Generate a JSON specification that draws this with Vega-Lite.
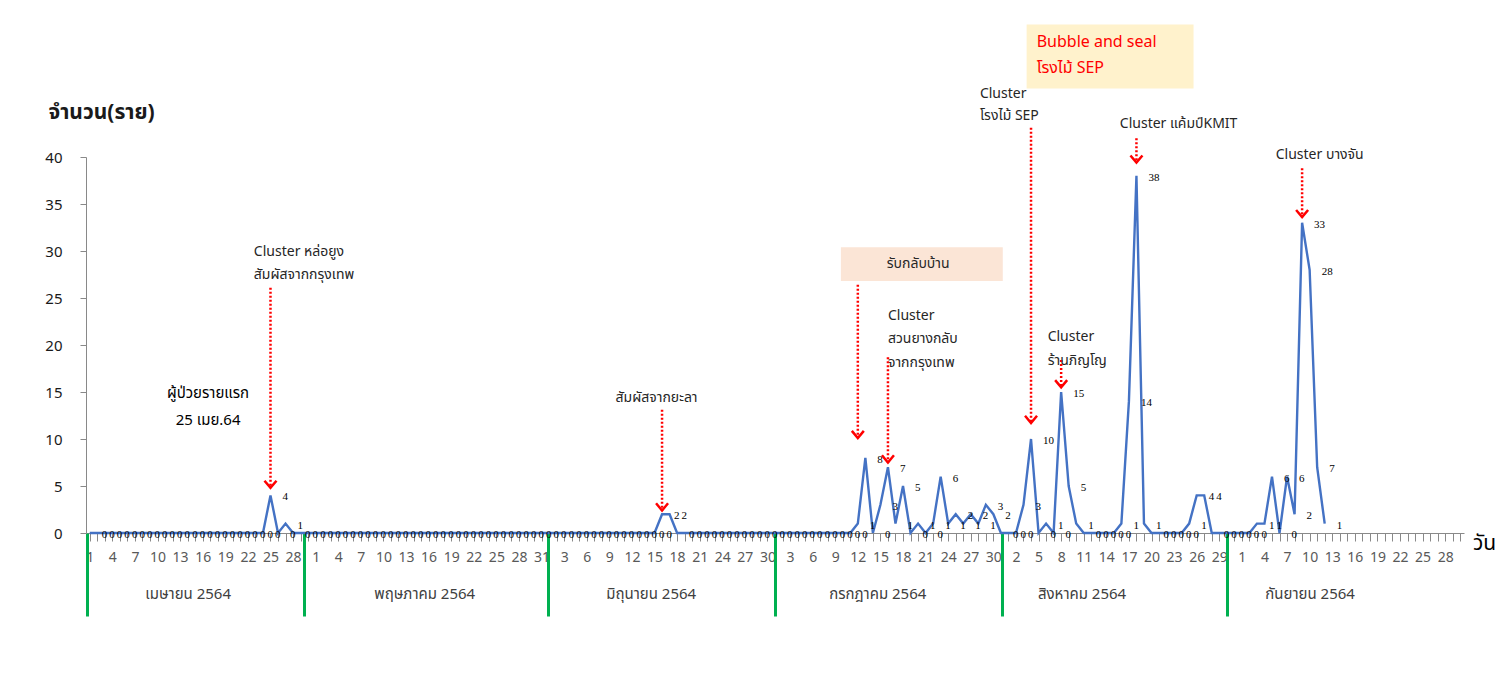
{
  "$schema": "https://vega.github.io/schema/vega-lite/v6.json",
  "width": 1378,
  "height": 376,
  "autosize": {"type": "none"},
  "padding": {"left": 86, "top": 157, "right": 47, "bottom": 144},
  "background": "white",
  "config": {"view": {"stroke": null}, "font": "Noto Sans Thai, Tahoma, Noto Sans, sans-serif"},
  "datasets": {
    "cases": [
      {"d":"2021-04-01","v":0},{"d":"2021-04-02","v":0},{"d":"2021-04-03","v":0},{"d":"2021-04-04","v":0},{"d":"2021-04-05","v":0},{"d":"2021-04-06","v":0},{"d":"2021-04-07","v":0},{"d":"2021-04-08","v":0},{"d":"2021-04-09","v":0},{"d":"2021-04-10","v":0},
      {"d":"2021-04-11","v":0},{"d":"2021-04-12","v":0},{"d":"2021-04-13","v":0},{"d":"2021-04-14","v":0},{"d":"2021-04-15","v":0},{"d":"2021-04-16","v":0},{"d":"2021-04-17","v":0},{"d":"2021-04-18","v":0},{"d":"2021-04-19","v":0},{"d":"2021-04-20","v":0},
      {"d":"2021-04-21","v":0},{"d":"2021-04-22","v":0},{"d":"2021-04-23","v":0},{"d":"2021-04-24","v":0},{"d":"2021-04-25","v":4},{"d":"2021-04-26","v":0},{"d":"2021-04-27","v":1},{"d":"2021-04-28","v":0},{"d":"2021-04-29","v":0},{"d":"2021-04-30","v":0},
      {"d":"2021-05-01","v":0},{"d":"2021-05-02","v":0},{"d":"2021-05-03","v":0},{"d":"2021-05-04","v":0},{"d":"2021-05-05","v":0},{"d":"2021-05-06","v":0},{"d":"2021-05-07","v":0},{"d":"2021-05-08","v":0},{"d":"2021-05-09","v":0},{"d":"2021-05-10","v":0},
      {"d":"2021-05-11","v":0},{"d":"2021-05-12","v":0},{"d":"2021-05-13","v":0},{"d":"2021-05-14","v":0},{"d":"2021-05-15","v":0},{"d":"2021-05-16","v":0},{"d":"2021-05-17","v":0},{"d":"2021-05-18","v":0},{"d":"2021-05-19","v":0},{"d":"2021-05-20","v":0},
      {"d":"2021-05-21","v":0},{"d":"2021-05-22","v":0},{"d":"2021-05-23","v":0},{"d":"2021-05-24","v":0},{"d":"2021-05-25","v":0},{"d":"2021-05-26","v":0},{"d":"2021-05-27","v":0},{"d":"2021-05-28","v":0},{"d":"2021-05-29","v":0},{"d":"2021-05-30","v":0},{"d":"2021-05-31","v":0},
      {"d":"2021-06-01","v":0},{"d":"2021-06-02","v":0},{"d":"2021-06-03","v":0},{"d":"2021-06-04","v":0},{"d":"2021-06-05","v":0},{"d":"2021-06-06","v":0},{"d":"2021-06-07","v":0},{"d":"2021-06-08","v":0},{"d":"2021-06-09","v":0},{"d":"2021-06-10","v":0},
      {"d":"2021-06-11","v":0},{"d":"2021-06-12","v":0},{"d":"2021-06-13","v":0},{"d":"2021-06-14","v":0},{"d":"2021-06-15","v":0},{"d":"2021-06-16","v":2},{"d":"2021-06-17","v":2},{"d":"2021-06-18","v":0},{"d":"2021-06-19","v":0},{"d":"2021-06-20","v":0},
      {"d":"2021-06-21","v":0},{"d":"2021-06-22","v":0},{"d":"2021-06-23","v":0},{"d":"2021-06-24","v":0},{"d":"2021-06-25","v":0},{"d":"2021-06-26","v":0},{"d":"2021-06-27","v":0},{"d":"2021-06-28","v":0},{"d":"2021-06-29","v":0},{"d":"2021-06-30","v":0},
      {"d":"2021-07-01","v":0},{"d":"2021-07-02","v":0},{"d":"2021-07-03","v":0},{"d":"2021-07-04","v":0},{"d":"2021-07-05","v":0},{"d":"2021-07-06","v":0},{"d":"2021-07-07","v":0},{"d":"2021-07-08","v":0},{"d":"2021-07-09","v":0},{"d":"2021-07-10","v":0},
      {"d":"2021-07-11","v":0},{"d":"2021-07-12","v":1},{"d":"2021-07-13","v":8},{"d":"2021-07-14","v":0},{"d":"2021-07-15","v":3},{"d":"2021-07-16","v":7},{"d":"2021-07-17","v":1},{"d":"2021-07-18","v":5},{"d":"2021-07-19","v":0},{"d":"2021-07-20","v":1},
      {"d":"2021-07-21","v":0},{"d":"2021-07-22","v":1},{"d":"2021-07-23","v":6},{"d":"2021-07-24","v":1},{"d":"2021-07-25","v":2},{"d":"2021-07-26","v":1},{"d":"2021-07-27","v":2},{"d":"2021-07-28","v":1},{"d":"2021-07-29","v":3},{"d":"2021-07-30","v":2},{"d":"2021-07-31","v":0},
      {"d":"2021-08-01","v":0},{"d":"2021-08-02","v":0},{"d":"2021-08-03","v":3},{"d":"2021-08-04","v":10},{"d":"2021-08-05","v":0},{"d":"2021-08-06","v":1},{"d":"2021-08-07","v":0},{"d":"2021-08-08","v":15},{"d":"2021-08-09","v":5},{"d":"2021-08-10","v":1},
      {"d":"2021-08-11","v":0},{"d":"2021-08-12","v":0},{"d":"2021-08-13","v":0},{"d":"2021-08-14","v":0},{"d":"2021-08-15","v":0},{"d":"2021-08-16","v":1},{"d":"2021-08-17","v":14},{"d":"2021-08-18","v":38},{"d":"2021-08-19","v":1},{"d":"2021-08-20","v":0},
      {"d":"2021-08-21","v":0},{"d":"2021-08-22","v":0},{"d":"2021-08-23","v":0},{"d":"2021-08-24","v":0},{"d":"2021-08-25","v":1},{"d":"2021-08-26","v":4},{"d":"2021-08-27","v":4},{"d":"2021-08-28","v":0},{"d":"2021-08-29","v":0},{"d":"2021-08-30","v":0},{"d":"2021-08-31","v":0},
      {"d":"2021-09-01","v":0},{"d":"2021-09-02","v":0},{"d":"2021-09-03","v":1},{"d":"2021-09-04","v":1},{"d":"2021-09-05","v":6},{"d":"2021-09-06","v":0},{"d":"2021-09-07","v":6},{"d":"2021-09-08","v":2},{"d":"2021-09-09","v":33},{"d":"2021-09-10","v":28},
      {"d":"2021-09-11","v":7},{"d":"2021-09-12","v":1}
    ],
    "arrows": [
      {"d":"2021-04-25","from":26.1,"to":4.8},
      {"d":"2021-06-16","from":13.1,"to":2.4},
      {"d":"2021-07-12","from":26.4,"to":10.1},
      {"d":"2021-07-16","from":18.7,"to":7.5},
      {"d":"2021-08-04","from":43.1,"to":11.7},
      {"d":"2021-08-08","from":18.4,"to":15.5},
      {"d":"2021-08-18","from":42.0,"to":39.4},
      {"d":"2021-09-09","from":38.8,"to":33.6}
    ],
    "boxes": [
      {"x1":"2021-07-09T18:00:00Z","x2":"2021-07-31T06:00:00Z","y1":30.4,"y2":26.8,"box":"home"},
      {"x1":"2021-08-03T10:00:00Z","x2":"2021-08-25T14:00:00Z","y1":54.1,"y2":47.3,"box":"bubble"}
    ],
    "notes": [
      {"d":"2021-04-22T19:00:00Z","v":29.9,"t":"Cluster หล่อยูง","g":"note"},
      {"d":"2021-04-22T19:00:00Z","v":27.4,"t":"สัมผัสจากกรุงเทพ","g":"note"},
      {"d":"2021-04-11T06:00:00Z","v":14.9,"t":"ผู้ป่วยรายแรก","g":"first"},
      {"d":"2021-04-12T10:00:00Z","v":12.0,"t":"25 เมย.64","g":"first"},
      {"d":"2021-06-09T20:00:00Z","v":14.4,"t":"สัมผัสจากยะลา","g":"note"},
      {"d":"2021-07-15T20:00:00Z","v":28.6,"t":"รับกลับบ้าน","g":"note"},
      {"d":"2021-07-16T00:00:00Z","v":23.1,"t":"Cluster","g":"note"},
      {"d":"2021-07-16T00:00:00Z","v":20.6,"t":"สวนยางกลับ","g":"note"},
      {"d":"2021-07-16T00:00:00Z","v":18.1,"t":"จากกรุงเทพ","g":"note"},
      {"d":"2021-07-28T05:00:00Z","v":46.7,"t":"Cluster","g":"note"},
      {"d":"2021-07-28T05:00:00Z","v":44.4,"t":"โรงไม้ SEP","g":"note"},
      {"d":"2021-08-04T18:00:00Z","v":52.2,"t":"Bubble and seal","g":"bubble"},
      {"d":"2021-08-04T18:00:00Z","v":49.5,"t":"โรงไม้ SEP","g":"bubble"},
      {"d":"2021-08-06T05:00:00Z","v":20.8,"t":"Cluster","g":"note"},
      {"d":"2021-08-06T05:00:00Z","v":18.3,"t":"ร้านภิญโญ","g":"note"},
      {"d":"2021-08-15T19:00:00Z","v":43.5,"t":"Cluster แค้มป์KMIT","g":"note"},
      {"d":"2021-09-05T12:00:00Z","v":40.2,"t":"Cluster บางจัน","g":"note"}
    ]
  },
  "layer": [
    {
      "data": {"name": "boxes"},
      "mark": {"type": "rect"},
      "encoding": {
        "x": {"field": "x1", "type": "temporal",
          "scale": {"type": "utc", "domain": [{"year":2021,"month":3,"date":31,"hours":12,"utc":true},{"year":2021,"month":9,"date":30,"hours":12,"utc":true}]},
          "axis": {"orient": "bottom", "title": null, "grid": false, "domain": false, "ticks": false, "tickSize": 0,
            "values": [{"year":2021,"month":4,"date":14,"utc":true},{"year":2021,"month":5,"date":15,"hours":10,"utc":true},{"year":2021,"month":6,"date":14,"hours":12,"utc":true},{"year":2021,"month":7,"date":14,"hours":14,"utc":true},{"year":2021,"month":8,"date":10,"hours":17,"utc":true},{"year":2021,"month":9,"date":10,"utc":true}],
            "labelExpr": "['เมษายน','พฤษภาคม','มิถุนายน','กรกฎาคม','สิงหาคม','กันยายน'][utcmonth(datum.value)-3] + ' 2564'",
            "labelPadding": 53, "labelFontSize": 15, "labelColor": "#404040", "labelOverlap": false, "labelFlush": false, "labelBound": false}},
        "x2": {"field": "x2"},
        "y": {"field": "y1", "type": "quantitative", "scale": {"domain": [0, 40], "nice": false, "zero": true},
          "axis": {"orient": "left", "values": [0,5,10,15,20,25,30,35,40], "grid": false, "domainColor": "#898989", "tickColor": "#898989",
            "tickSize": 6, "labelPadding": 18, "labelFontSize": 15, "labelColor": "#1a1a1a", "labelFont": "Noto Sans",
            "title": "จำนวน(ราย)", "titleAngle": 0, "titleX": -38, "titleY": -45, "titleAlign": "left", "titleBaseline": "middle",
            "titleFontSize": 21, "titleFontWeight": "bold", "titleColor": "#1a1a1a"}},
        "y2": {"field": "y2"},
        "fill": {"field": "box", "type": "nominal", "scale": {"domain": ["home", "bubble"], "range": ["#FBE5D6", "#FFF2CC"]}, "legend": null}
      }
    },
    {
      "data": {"name": "cases"},
      "mark": {"type": "line", "color": "#4472C4", "strokeWidth": 2.4},
      "encoding": {
        "x": {"field": "d", "type": "temporal",
          "scale": {"type": "utc", "domain": [{"year":2021,"month":3,"date":31,"hours":12,"utc":true},{"year":2021,"month":9,"date":30,"hours":12,"utc":true}]},
          "axis": {"orient": "bottom", "grid": false, "tickCount": {"interval": "day", "step": 1},
            "labelExpr": "round((toNumber(datum.value) - utc(2021,3,1)) / 86400000) % 3 == 0 ? utcFormat(datum.value, '%-d') : ''",
            "labelOverlap": false, "labelFlush": false, "labelBound": false,
            "domainColor": "#898989", "tickColor": "#898989", "tickSize": 8, "labelPadding": 9,
            "labelFontSize": 14, "labelColor": "#595959", "labelFont": "Noto Sans",
            "title": "วัน", "titleX": 1398, "titleY": 10, "titleAlign": "center", "titleBaseline": "middle",
            "titleFontSize": 21, "titleFontWeight": "normal", "titleColor": "#000000"}},
        "y": {"field": "v", "type": "quantitative", "scale": {"domain": [0, 40], "nice": false, "zero": true}, "axis": null}
      }
    },
    {
      "data": {"name": "cases"},
      "mark": {"type": "text", "align": "left", "baseline": "middle", "dx": 12, "dy": 2, "font": "Liberation Serif", "fontSize": 11, "color": "#000000"},
      "encoding": {
        "x": {"field": "d", "type": "temporal", "scale": {"type": "utc", "domain": [{"year":2021,"month":3,"date":31,"hours":12,"utc":true},{"year":2021,"month":9,"date":30,"hours":12,"utc":true}]}, "axis": null},
        "y": {"field": "v", "type": "quantitative", "scale": {"domain": [0, 40], "nice": false, "zero": true}, "axis": null},
        "text": {"field": "v", "type": "quantitative"}
      }
    },
    {
      "data": {"name": "arrows"},
      "mark": {"type": "rule", "color": "#FF0000", "strokeWidth": 2.5, "strokeDash": [2, 2]},
      "encoding": {
        "x": {"field": "d", "type": "temporal",
          "scale": {"type": "utc", "domain": [{"year":2021,"month":3,"date":31,"hours":12,"utc":true},{"year":2021,"month":9,"date":30,"hours":12,"utc":true}]},
          "axis": {"orient": "bottom", "title": null, "grid": false, "domain": false, "labels": false, "ticks": true,
            "tickColor": "#00B050", "tickWidth": 3, "tickSize": 83,
            "values": [{"year":2021,"month":3,"date":31,"hours":14,"utc":true},{"year":2021,"month":4,"date":29,"hours":10,"utc":true},{"year":2021,"month":5,"date":31,"hours":19,"utc":true},{"year":2021,"month":7,"date":1,"utc":true},{"year":2021,"month":7,"date":31,"hours":5,"utc":true},{"year":2021,"month":8,"date":30,"hours":2,"utc":true}]}},
        "y": {"field": "from", "type": "quantitative", "scale": {"domain": [0, 40], "nice": false, "zero": true}, "axis": null},
        "y2": {"field": "to"}
      }
    },
    {
      "data": {"name": "arrows"},
      "mark": {"type": "point", "shape": "M-1,-1.2L0,0L1,-1.2", "filled": false, "color": "#FF0000", "strokeWidth": 2.5, "size": 144, "opacity": 1},
      "encoding": {
        "x": {"field": "d", "type": "temporal", "scale": {"type": "utc", "domain": [{"year":2021,"month":3,"date":31,"hours":12,"utc":true},{"year":2021,"month":9,"date":30,"hours":12,"utc":true}]}, "axis": null},
        "y": {"field": "to", "type": "quantitative", "scale": {"domain": [0, 40], "nice": false, "zero": true}, "axis": null}
      }
    },
    {
      "data": {"name": "notes"},
      "mark": {"type": "text", "align": "left", "baseline": "middle"},
      "encoding": {
        "x": {"field": "d", "type": "temporal", "scale": {"type": "utc", "domain": [{"year":2021,"month":3,"date":31,"hours":12,"utc":true},{"year":2021,"month":9,"date":30,"hours":12,"utc":true}]}, "axis": null},
        "y": {"field": "v", "type": "quantitative", "scale": {"domain": [0, 40], "nice": false, "zero": true}, "axis": null},
        "text": {"field": "t", "type": "nominal"},
        "color": {"field": "g", "type": "nominal", "scale": {"domain": ["note", "first", "bubble"], "range": ["#262626", "#000000", "#FF0000"]}, "legend": null},
        "size": {"field": "g", "type": "nominal", "scale": {"domain": ["note", "first", "bubble"], "range": [14, 16, 14]}, "legend": null}
      }
    }
  ],
  "resolve": {"axis": {"x": "independent", "y": "independent"}}
}
